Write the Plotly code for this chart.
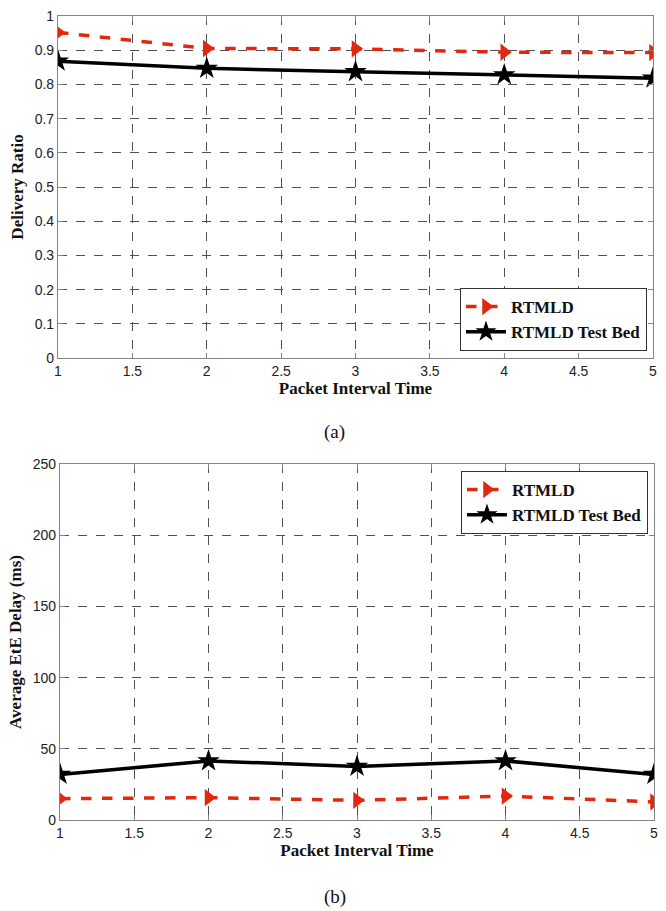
import plotly.graph_objects as go

# Packet interval times (x axis shared by both panels)
interval = [1, 2, 3, 4, 5]

# Panel (a): delivery ratio
ratio_rtmld = [0.952, 0.905, 0.904, 0.894, 0.893]
ratio_testbed = [0.868, 0.847, 0.837, 0.828, 0.818]

# Panel (b): average end-to-end delay (ms)
delay_rtmld = [15.0, 15.7, 13.8, 16.8, 12.7]
delay_testbed = [32.0, 41.5, 37.6, 41.5, 32.0]

x_ticks = [1, 1.5, 2, 2.5, 3, 3.5, 4, 4.5, 5]
ratio_ticks = [0, 0.1, 0.2, 0.3, 0.4, 0.5, 0.6, 0.7, 0.8, 0.9, 1]
delay_ticks = [0, 50, 100, 150, 200, 250]

RED = "#e2270f"
BLACK = "#000000"
W, H = 666, 911
SERIF = "Liberation Serif, Times New Roman"

fig = go.Figure()

def add_pair(xa, ya, y1, y2, legend):
    fig.add_trace(go.Scatter(
        x=interval, y=y1, name="<b>RTMLD</b>", mode="lines+markers",
        line=dict(color=RED, width=3.5, dash="dash"),
        marker=dict(symbol="triangle-right", size=15, color=RED),
        xaxis=xa, yaxis=ya, legend=legend))
    fig.add_trace(go.Scatter(
        x=interval, y=y2, name="<b>RTMLD Test Bed</b>", mode="lines+markers",
        line=dict(color=BLACK, width=3.5),
        marker=dict(symbol="star", size=17, color=BLACK),
        xaxis=xa, yaxis=ya, legend=legend))

add_pair("x", "y", ratio_rtmld, ratio_testbed, "legend")
add_pair("x2", "y2", delay_rtmld, delay_testbed, "legend2")

tick_font = dict(family="Liberation Sans, Arial", size=14, color="#222")
title_font = dict(family=SERIF, size=17, color="#111")
legend_font = dict(family=SERIF, size=17, color="#111")

axis_common = dict(
    showline=True, mirror="ticks", linecolor="#858585", linewidth=1.2,
    ticks="inside", ticklen=5, tickcolor="#858585",
    showgrid=True, gridcolor="#505050", gridwidth=1, griddash="dash",
    zeroline=False, tickfont=tick_font, automargin=False,
)

top_x = [58 / W, 653 / W]
bot_x = [60 / W, 654 / W]
top_dom = [1 - 358 / H, 1 - 16 / H]
bot_dom = [1 - 820 / H, 1 - 464 / H]

fig.update_layout(
    width=W, height=H,
    margin=dict(l=0, r=0, t=0, b=0),
    paper_bgcolor="white", plot_bgcolor="white",
    showlegend=True,
    xaxis=dict(axis_common, domain=top_x, range=[1, 5], tickvals=x_ticks,
               ticktext=[f"{v:g}" for v in x_ticks], anchor="y",
               title=dict(text="<b>Packet Interval Time</b>", font=title_font, standoff=4)),
    yaxis=dict(axis_common, domain=top_dom, range=[0, 1], tickvals=ratio_ticks,
               ticktext=[f"{v:g}" for v in ratio_ticks], anchor="x",
               title=dict(text="<b>Delivery Ratio</b>", font=title_font, standoff=6)),
    xaxis2=dict(axis_common, domain=bot_x, range=[1, 5], tickvals=x_ticks,
                ticktext=[f"{v:g}" for v in x_ticks], anchor="y2",
                title=dict(text="<b>Packet Interval Time</b>", font=title_font, standoff=4)),
    yaxis2=dict(axis_common, domain=bot_dom, range=[0, 250], tickvals=delay_ticks,
                anchor="x2",
                title=dict(text="<b>Average EtE Delay (ms)</b>", font=title_font, standoff=6)),
    legend=dict(x=647 / W, y=1 - 351 / H, xanchor="right", yanchor="bottom",
                bgcolor="white", bordercolor="#333", borderwidth=1,
                font=legend_font, tracegroupgap=0, itemwidth=40),
    legend2=dict(x=648 / W, y=1 - 471 / H, xanchor="right", yanchor="top",
                 bgcolor="white", bordercolor="#333", borderwidth=1,
                 font=legend_font, tracegroupgap=0, itemwidth=40),
    annotations=[
        dict(text="(a)", x=0.503, y=1 - 432 / H, xref="paper", yref="paper",
             yanchor="middle", showarrow=False,
             font=dict(family=SERIF, size=19, color="#111")),
        dict(text="(b)", x=0.503, y=1 - 897 / H, xref="paper", yref="paper",
             yanchor="middle", showarrow=False,
             font=dict(family=SERIF, size=19, color="#111")),
    ],
)

fig.write_html("out.html")
